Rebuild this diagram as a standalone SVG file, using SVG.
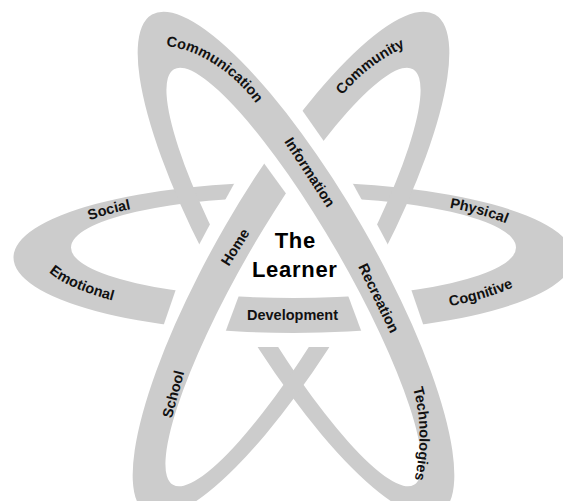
<svg xmlns="http://www.w3.org/2000/svg" width="563" height="501" viewBox="0 0 563 501">
<style>
.ring{fill:#cccccc;fill-rule:evenodd}
.lbl{font-family:"Liberation Sans",Arial,Helvetica,sans-serif;font-weight:bold;font-size:14.5px;fill:#111}
.mid{text-anchor:middle}
.title{font-family:"Liberation Sans",Arial,Helvetica,sans-serif;font-weight:bold;font-size:22px;letter-spacing:0.7px;fill:#000;text-anchor:middle}
</style>
<defs>
  <path id="ringH" d="M13.5,257.5 A280,75.5 0 1,0 573.5,257.5 A280,75.5 0 1,0 13.5,257.5 Z M71,247.5 A222.5,50.5 0 1,0 516,247.5 A222.5,50.5 0 1,0 71,247.5 Z"/>
  <path id="ringB" d="M152,14.58 A288,76 60 1,0 440,513.42 A288,76 60 1,0 152,14.58 Z M174,69.15 A240,50 60 1,0 414,484.85 A240,50 60 1,0 174,69.15 Z"/>
  <mask id="mH" maskUnits="userSpaceOnUse" x="-50" y="-50" width="700" height="650">
    <rect x="-50" y="-50" width="700" height="650" fill="#fff"/>
    <polygon points="244.4,165 342.6,165 372.8,220 214.2,220" fill="#000"/>
    <polygon points="179.1,280 244.7,280 222.4,340 158.5,340" fill="#000"/>
    <polygon points="342.3,280 407.9,280 428.5,340 364.6,340" fill="#000"/>
  </mask>
  <mask id="mB" maskUnits="userSpaceOnUse" x="-50" y="-50" width="700" height="650">
    <rect x="-50" y="-50" width="700" height="650" fill="#fff"/>
    <polygon points="192,258 216,213 310,347 235,347" fill="#000"/>
  </mask>
  <mask id="mC" maskUnits="userSpaceOnUse" x="-50" y="-50" width="700" height="650">
    <rect x="-50" y="-50" width="700" height="650" fill="#fff"/>
    <polygon points="395,258 371,213 277,347 352,347" fill="#000"/>
    <polygon points="288,90 337,160 298,210 247,140" fill="#000"/>
  </mask>
  <path id="pSocial" d="M48,252.5 A245.5,58 0 0,1 293.5,194.5"/>
  <path id="pPhys" d="M293.5,194.5 A245.5,58 0 0,1 539,252.5"/>
  <path id="pEmo" d="M38,252.5 A255.5,68 0 0,0 293.5,320.5"/>
  <path id="pCog" d="M293.5,320.5 A255.5,68 0 0,0 549,252.5"/>
  <path id="pComm" d="M160,46 C195,45.5 240,75.5 262,112.5"/>
  <path id="pCommunity" d="M335.5,104.5 Q365.5,62.5 415.5,42.5"/>
  <path id="pTech" d="M410.5,380 Q427.5,432 412.5,488"/>
</defs>

<g id="ring-horizontal" mask="url(#mH)">
  <use href="#ringH" class="ring"/>
</g>
<g id="ring-diagonal-left" mask="url(#mB)">
  <use href="#ringB" class="ring"/>
</g>
<g id="ring-diagonal-right" mask="url(#mC)">
  <use href="#ringB" class="ring" transform="matrix(-1,0,0,1,587,0)"/>
</g>

<g id="connectors"></g>

<g id="learner">
  <text class="title" x="295.3" y="248">The</text>
  <text class="title" x="294.8" y="277">Learner</text>
</g>
<g id="development">
  <text class="lbl mid" x="292.5" y="320">Development</text>
</g>
<g id="social"><text class="lbl"><textPath href="#pSocial" startOffset="76.9" text-anchor="middle">Social</textPath></text></g>
<g id="emotional"><text class="lbl"><textPath href="#pEmo" startOffset="58.5" text-anchor="middle">Emotional</textPath></text></g>
<g id="physical"><text class="lbl"><textPath href="#pPhys" startOffset="186" text-anchor="middle">Physical</textPath></text></g>
<g id="cognitive"><text class="lbl"><textPath href="#pCog" startOffset="190.5" text-anchor="middle">Cognitive</textPath></text></g>
<g id="communication"><text class="lbl"><textPath href="#pComm" startOffset="6">Communication</textPath></text></g>
<g id="community"><text class="lbl"><textPath href="#pCommunity" startOffset="50%" text-anchor="middle">Community</textPath></text></g>
<g id="technologies"><text class="lbl"><textPath href="#pTech" startOffset="50%" text-anchor="middle">Technologies</textPath></text></g>
<g id="information"><text class="lbl mid" transform="translate(310,172) rotate(57)" x="0" y="5.2">Information</text></g>
<g id="recreation"><text class="lbl mid" transform="translate(379,298) rotate(64)" x="0" y="5.2">Recreation</text></g>
<g id="home"><text class="lbl mid" transform="translate(235,247) rotate(-58)" x="0" y="5.2">Home</text></g>
<g id="school"><text class="lbl mid" transform="translate(173,394) rotate(-75)" x="0" y="5.2">School</text></g>
</svg>
